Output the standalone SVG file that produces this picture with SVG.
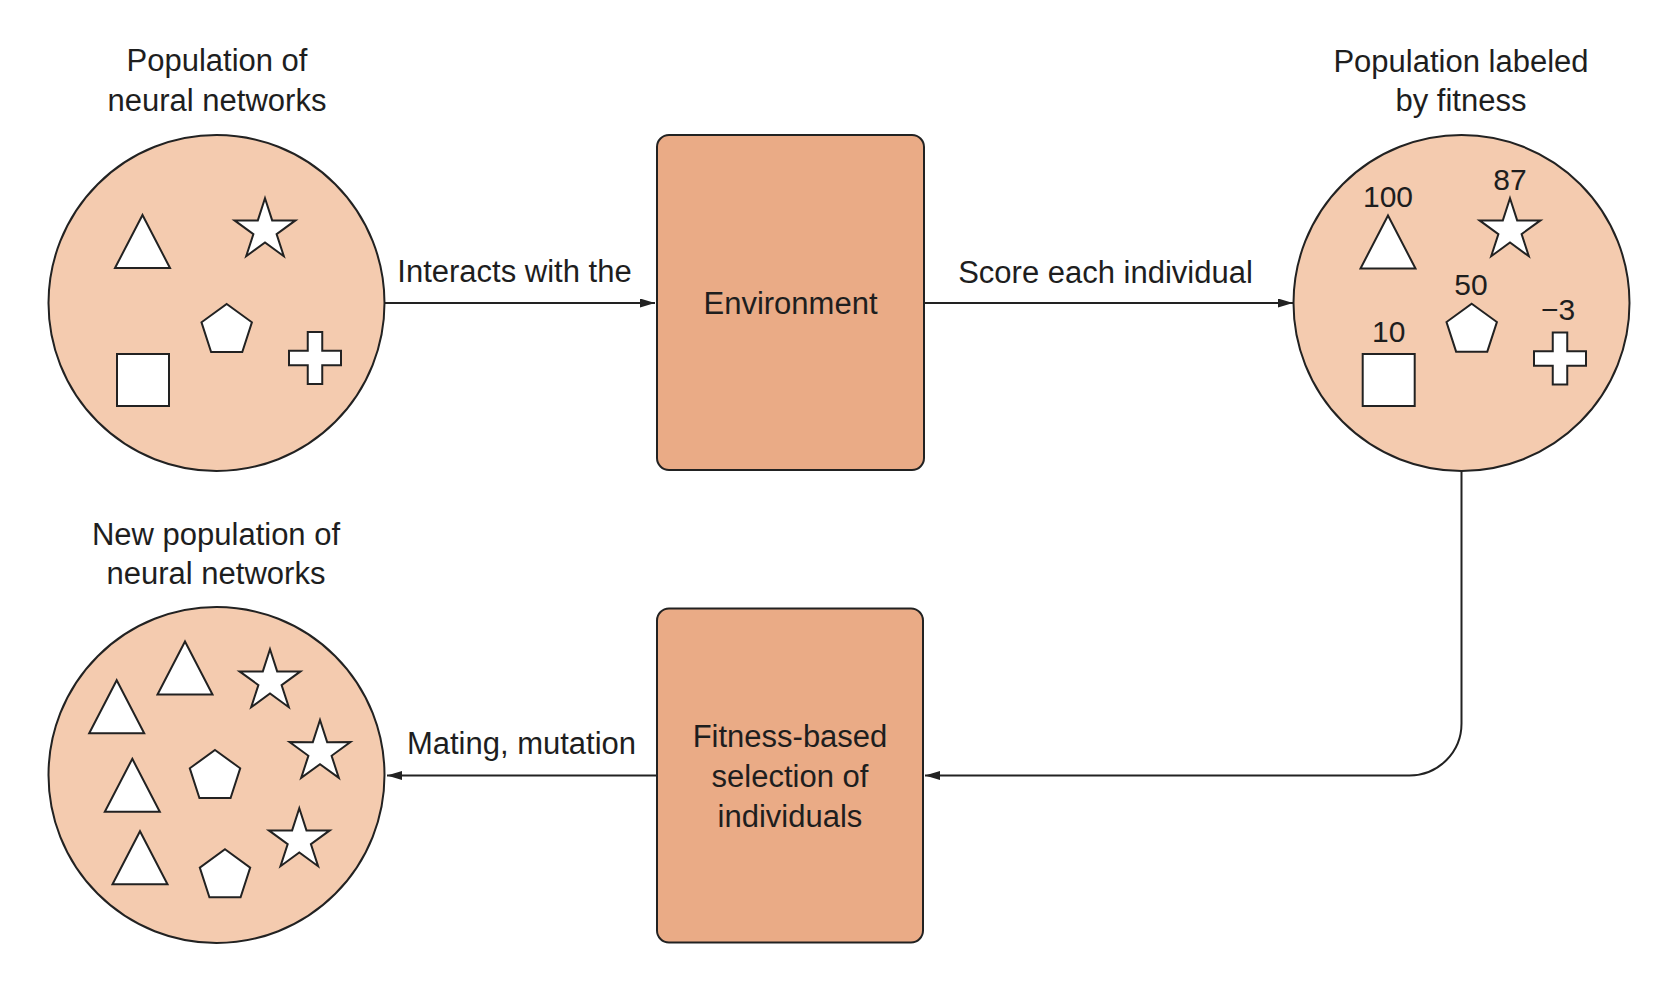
<svg xmlns="http://www.w3.org/2000/svg" xmlns:xlink="http://www.w3.org/1999/xlink" width="1668" height="1004" viewBox="0 0 1668 1004">
<style>
.pop{fill:#F4CBAF;stroke:#222;stroke-width:2}
.box{fill:#EAAB86;stroke:#222;stroke-width:2}
.sh{fill:#fff;stroke:#222;stroke-width:2;stroke-linejoin:miter}
.t{font-family:"Liberation Sans",Arial,sans-serif;font-size:31px;fill:#1e1e1e;text-anchor:middle}
.n{font-family:"Liberation Sans",Arial,sans-serif;font-size:30px;fill:#1e1e1e;text-anchor:middle}
.conn{fill:none;stroke:#222;stroke-width:2}
</style>
<defs>
<marker id="arr" markerUnits="userSpaceOnUse" markerWidth="16" markerHeight="10" refX="15" refY="4.5" orient="auto">
<path d="M0,0 L15,4.5 L0,9 z" fill="#222"/>
</marker>
<polygon id="star" class="sh" points="0,-32 7.17,-9.87 30.43,-9.89 11.6,3.77 18.81,25.89 0,12.2 -18.81,25.89 -11.6,3.77 -30.43,-9.89 -7.17,-9.87"/>
<polygon id="pent" class="sh" points="0,-26.5 25.2,-8.19 15.58,21.44 -15.58,21.44 -25.2,-8.19"/>
<polygon id="tri" class="sh" points="0,-26.5 27.5,26.5 -27.5,26.5"/>
<rect id="sq" class="sh" x="-26" y="-26" width="52" height="52"/>
<polygon id="cross" class="sh" points="-7.25,-26 7.25,-26 7.25,-7.25 26,-7.25 26,7.25 7.25,7.25 7.25,26 -7.25,26 -7.25,7.25 -26,7.25 -26,-7.25 -7.25,-7.25"/>
</defs>

<g id="connectors">
<path class="conn" d="M385 303 H655" marker-end="url(#arr)"/>
<path class="conn" d="M924 303 H1293" marker-end="url(#arr)"/>
<path class="conn" d="M1461.5 471 V723.5 A52 52 0 0 1 1409.5 775.5 H925" marker-end="url(#arr)"/>
<path class="conn" d="M657 775.5 H387" marker-end="url(#arr)"/>
<text class="t" x="514.5" y="282">Interacts with the</text>
<text class="t" x="1105.5" y="282.5">Score each individual</text>
<text class="t" x="521.5" y="754">Mating, mutation</text>
</g>

<g id="population">
<text class="t" x="217" y="71">Population of</text>
<text class="t" x="217" y="110.5">neural networks</text>
<circle class="pop" cx="216.5" cy="303" r="168"/>
<use href="#tri" xlink:href="#tri" x="142.5" y="241.5"/>
<use href="#star" xlink:href="#star" x="265" y="230.3"/>
<use href="#pent" xlink:href="#pent" x="226.7" y="330.5"/>
<use href="#sq" xlink:href="#sq" x="143" y="380"/>
<use href="#cross" xlink:href="#cross" x="315" y="358"/>
</g>

<g id="environment">
<rect class="box" x="657" y="135" width="267" height="335" rx="12"/>
<text class="t" x="790.5" y="314">Environment</text>
</g>

<g id="labeled">
<text class="t" x="1461" y="72">Population labeled</text>
<text class="t" x="1461" y="110.5">by fitness</text>
<circle class="pop" cx="1461.5" cy="303" r="168"/>
<text class="n" x="1388" y="206.5">100</text>
<use href="#tri" xlink:href="#tri" x="1388" y="242"/>
<text class="n" x="1510" y="190">87</text>
<use href="#star" xlink:href="#star" x="1510" y="230.3"/>
<text class="n" x="1471" y="295">50</text>
<use href="#pent" xlink:href="#pent" x="1471.7" y="330.2"/>
<text class="n" x="1558" y="319.5">−3</text>
<use href="#cross" xlink:href="#cross" x="1560" y="358.5"/>
<text class="n" x="1388.7" y="341.5">10</text>
<use href="#sq" xlink:href="#sq" x="1388.7" y="380"/>
</g>

<g id="selection">
<rect class="box" x="657" y="608.5" width="266" height="334" rx="12"/>
<text class="t" x="790" y="746.5">Fitness-based</text>
<text class="t" x="790" y="787">selection of</text>
<text class="t" x="790" y="826.5">individuals</text>
</g>

<g id="newpopulation">
<text class="t" x="216" y="545">New population of</text>
<text class="t" x="216" y="583.5">neural networks</text>
<circle class="pop" cx="216.5" cy="775" r="168"/>
<use href="#tri" xlink:href="#tri" x="116.7" y="706.7"/>
<use href="#tri" xlink:href="#tri" x="185" y="668"/>
<use href="#tri" xlink:href="#tri" x="132.3" y="785.3"/>
<use href="#tri" xlink:href="#tri" x="140" y="857.7"/>
<use href="#star" xlink:href="#star" x="270" y="681.3"/>
<use href="#star" xlink:href="#star" x="320" y="752"/>
<use href="#star" xlink:href="#star" x="299.3" y="840.3"/>
<use href="#pent" xlink:href="#pent" x="215" y="776.5"/>
<use href="#pent" xlink:href="#pent" x="225" y="875.8"/>
</g>
</svg>
